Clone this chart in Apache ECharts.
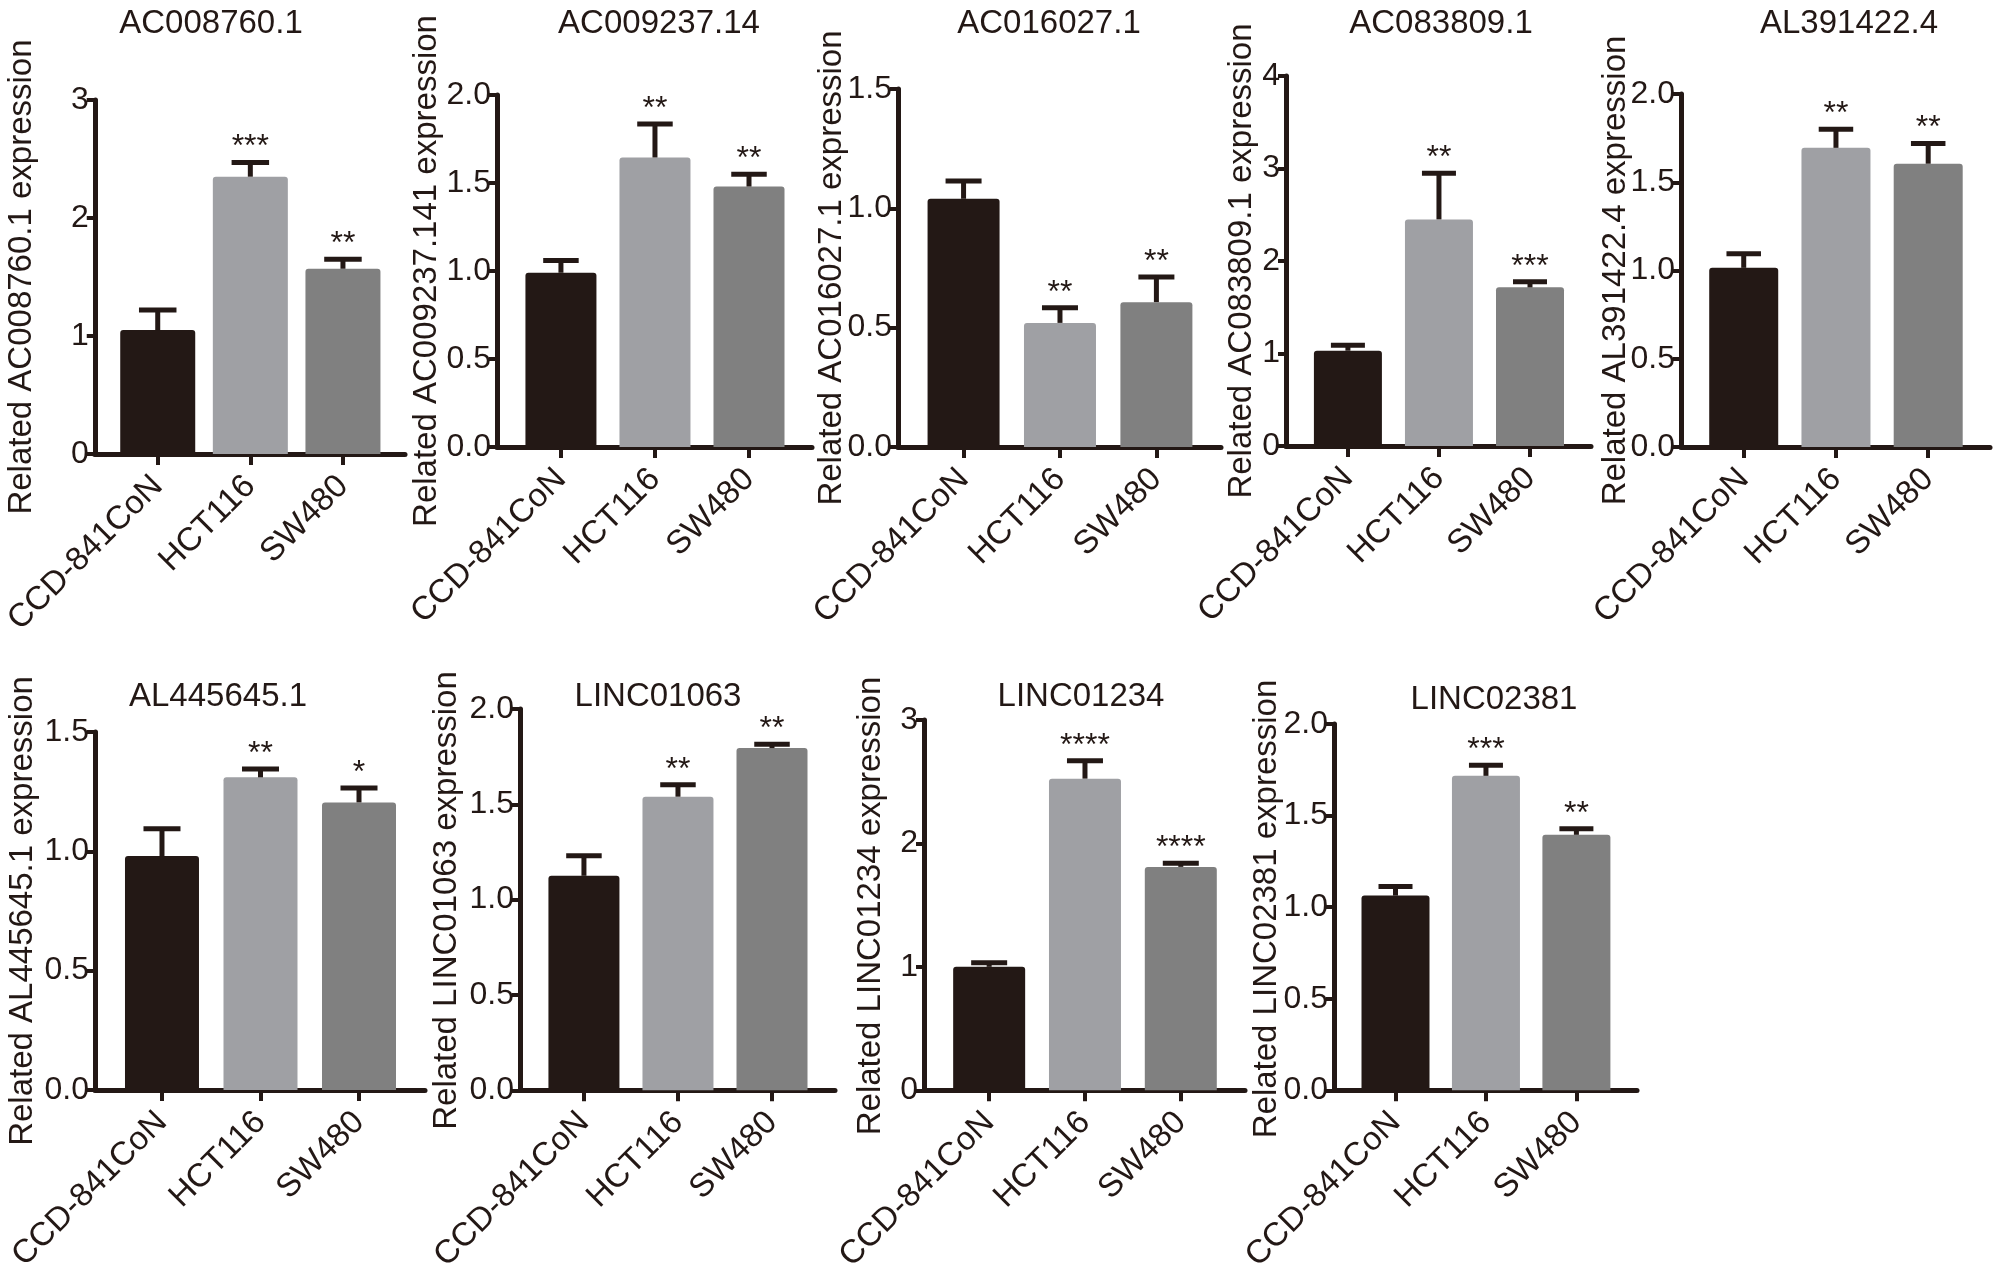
<!DOCTYPE html>
<html lang="en">
<head>
    <meta charset="UTF-8">
    <title>lncRNA expression bar charts</title>
    <script src="https://cdn.jsdelivr.net/npm/echarts@6.0.0/dist/echarts.min.js"></script>
    <style>
        html, body { margin: 0; padding: 0; background: #fff; }
        #chart { width: 1995px; height: 1275px; }
    </style>
</head>
<body>
<div id="chart"></div>
<script>
    // cell lines on the x axis
    const groups = ['CCD-841CoN', 'HCT116', 'SW480'];

    // one panel per gene
    const genes = ['AC008760.1', 'AC009237.14', 'AC016027.1', 'AC083809.1', 'AL391422.4',
                   'AL445645.1', 'LINC01063', 'LINC01234', 'LINC02381'];
    const yNames = ['Related AC008760.1 expression', 'Related AC009237.141 expression',
                    'Related AC016027.1 expression', 'Related AC083809.1 expression',
                    'Related AL391422.4 expression', 'Related AL445645.1 expression',
                    'Related LINC01063 expression', 'Related LINC01234 expression',
                    'Related LINC02381 expression'];
    const yMax = [3, 2, 1.5, 4, 2, 1.5, 2, 3, 2];
    const yStep = [1, 0.5, 0.5, 1, 0.5, 0.5, 0.5, 1, 0.5];

    // mean values
    const meanCCD = [1.05, 0.99, 1.04, 1.03, 1.015, 0.98, 1.125, 1.00, 1.063];
    const meanHCT = [2.35, 1.645, 0.52, 2.45, 1.695, 1.31, 1.54, 2.525, 1.717];
    const meanSW  = [1.57, 1.48, 0.607, 1.715, 1.605, 1.205, 1.795, 1.81, 1.395];

    // upper error (SD)
    const errCCD = [0.17, 0.07, 0.075, 0.06, 0.08, 0.115, 0.105, 0.033, 0.05];
    const errHCT = [0.12, 0.19, 0.063, 0.50, 0.105, 0.035, 0.063, 0.145, 0.058];
    const errSW  = [0.08, 0.07, 0.105, 0.06, 0.115, 0.06, 0.02, 0.03, 0.033];

    // significance marks
    const starHCT = ['***', '**', '**', '**', '**', '**', '**', '****', '***'];
    const starSW  = ['**', '**', '**', '***', '**', '*', '**', '****', '**'];

    const barColors = ['#231815', '#9fa0a4', '#808080'];
    const ink = '#231815';
    const font = "'Liberation Sans', Arial, sans-serif";

    // panel placement: axis left, axis right, axis top, axis bottom, title x, title y, y-name x
    const layout = [
        [68, 405, 100, 454, 211, 24, 22],
        [497, 812, 95, 447, 659, 24, 427],
        [898, 1221, 89, 447, 1049, 24, 832],
        [1286, 1591, 76, 446, 1441, 24, 1242],
        [1681, 1990, 94, 447, 1849, 24, 1616],
        [95, 425, 732, 1090, 218, 697, 23],
        [520, 835, 709, 1092, 658, 697, 447],
        [924, 1245, 720, 1092, 1081, 697, 871],
        [1334, 1637, 724, 1094, 1494, 700, 1267]
    ];
    const xMin = -0.68, xMax = 2.67;

    const grids = [], xAxes = [], yAxes = [], series = [], texts = [];

    genes.forEach((gene, i) => {
        const [l, r, t, b, tx, ty, nx] = layout[i];
        const spacing = (r - l) / (xMax - xMin);
        const barW = Math.round(spacing * 0.75);
        const means = [meanCCD[i], meanHCT[i], meanSW[i]];
        const errs = [errCCD[i], errHCT[i], errSW[i]];
        const stars = ['', starHCT[i], starSW[i]];

        grids.push({ left: l, top: t, width: r - l, height: b - t });

        xAxes.push({
            gridIndex: i, type: 'value', min: xMin, max: xMax,
            axisLine: { onZero: false, lineStyle: { color: ink, width: 5 } },
            axisTick: { customValues: [0, 1, 2], length: 11, lineStyle: { color: ink, width: 4 } },
            axisLabel: {
                customValues: [0, 1, 2], formatter: v => groups[v],
                rotate: 45, margin: 27, fontSize: 33, color: ink, fontFamily: font
            },
            splitLine: { show: false }
        });

        yAxes.push({
            gridIndex: i, type: 'value', min: 0, max: yMax[i], interval: yStep[i],
            axisLine: { show: true, onZero: false, lineStyle: { color: ink, width: 5 } },
            axisTick: { show: true, length: 8, lineStyle: { color: ink, width: 4 } },
            axisLabel: {
                margin: 6, fontSize: 32, color: ink, fontFamily: font,
                formatter: v => yStep[i] < 1 ? v.toFixed(1) : String(v)
            },
            splitLine: { show: false }
        });

        series.push({
            type: 'bar', xAxisIndex: i, yAxisIndex: i, barWidth: barW,
            itemStyle: { borderRadius: [3, 3, 0, 0] },
            data: means.map((m, k) => ({ value: [k, m], itemStyle: { color: barColors[k] } }))
        });

        // upper error bars and stars
        series.push({
            type: 'custom', xAxisIndex: i, yAxisIndex: i, z: 5,
            data: means.map((m, k) => [k, m, errs[k]]),
            renderItem: (params, api) => {
                const x = api.value(0), m = api.value(1), e = api.value(2);
                const base = api.coord([x, m]);
                const top = api.coord([x, m + e]);
                const half = barW * 0.25;
                return {
                    type: 'group',
                    children: [
                        { type: 'line', shape: { x1: base[0], y1: base[1], x2: top[0], y2: top[1] },
                          style: { stroke: ink, lineWidth: 5 } },
                        { type: 'line', shape: { x1: top[0] - half, y1: top[1], x2: top[0] + half, y2: top[1] },
                          style: { stroke: ink, lineWidth: 5 } },
                        { type: 'text', x: top[0], y: top[1] + 1,
                          style: { text: stars[params.dataIndex], textAlign: 'center', textVerticalAlign: 'bottom',
                                   font: '32px ' + font, fill: ink } }
                    ]
                };
            }
        });

        // panel title
        texts.push({
            type: 'text', x: tx, y: ty,
            style: { text: gene, textAlign: 'center', textVerticalAlign: 'middle', font: '33px ' + font, fill: ink }
        });
        // y axis title, reading upwards
        texts.push({
            type: 'text', x: nx, y: (t + b) / 2, rotation: Math.PI / 2,
            style: { text: yNames[i], textAlign: 'center', textVerticalAlign: 'middle', font: '33px ' + font, fill: ink }
        });
    });

    const myChart = echarts.init(document.getElementById('chart'));
    myChart.setOption({
        backgroundColor: '#fff',
        animation: false,
        grid: grids,
        xAxis: xAxes,
        yAxis: yAxes,
        series: series,
        graphic: texts
    });
</script>
</body>
</html>
